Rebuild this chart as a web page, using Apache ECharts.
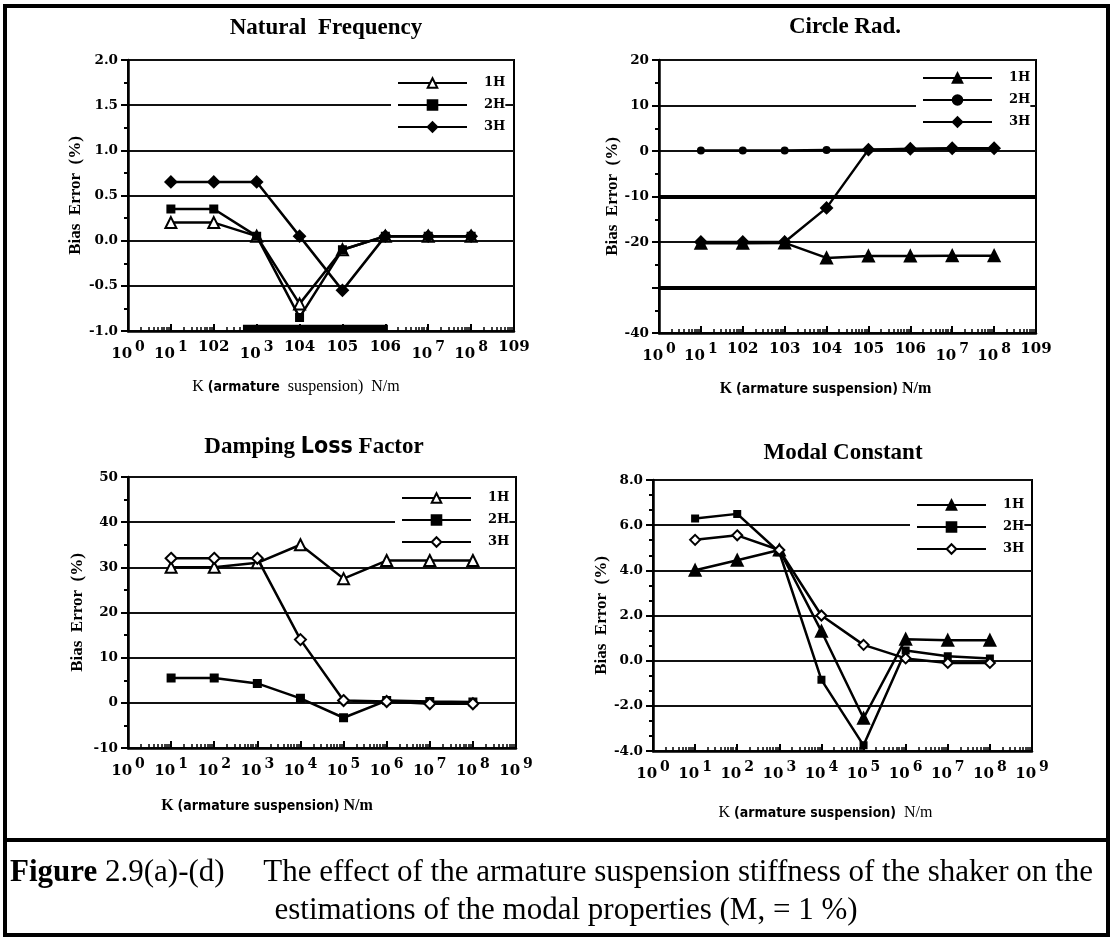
<!DOCTYPE html>
<html>
<head>
<meta charset="utf-8">
<script src="https://cdn.jsdelivr.net/npm/echarts@6/dist/echarts.min.js"></script>
<style>
  html, body { margin: 0; padding: 0; background: #fff; }
  #main { width: 1112px; height: 938px; }
</style>
</head>
<body>
<div id="main"></div>
<script>
// stiffness values K (N/m)
const kValues = [1e1, 1e2, 1e3, 1e4, 1e5, 1e6, 1e7, 1e8];
const harmonics = ['1H', '2H', '3H'];
const panelTitles = ['Natural  Frequency', 'Circle Rad.', 'Damping {l|Loss} Factor', 'Modal Constant'];

// (a) natural frequency bias error (%)
const natFreq1H = [0.2, 0.2, 0.05, -0.7, -0.1, 0.05, 0.05, 0.05];
const natFreq2H = [0.35, 0.35, 0.05, -0.85, -0.1, 0.05, 0.05, 0.05];
const natFreq3H = [0.65, 0.65, 0.65, 0.05, -0.55, 0.05, 0.05, 0.05];

// (b) circle radius bias error (%)
const circRad1H = [-20.3, -20.3, -20.2, -23.5, -23.1, -23.1, -23.0, -23.0];
const circRad2H = [0.1, 0.1, 0.1, 0.2, 0.3, 0.4, 0.5, 0.5];
const circRad3H = [-20.0, -20.0, -20.0, -12.5, 0.3, 0.5, 0.6, 0.6];

// (c) damping loss factor bias error (%)
const damp1H = [30.0, 30.0, 31.0, 35.0, 27.5, 31.5, 31.5, 31.5];
const damp2H = [5.5, 5.5, 4.3, 1.0, -3.3, 0.5, 0.3, 0.2];
const damp3H = [32.0, 32.0, 32.0, 14.0, 0.5, 0.3, -0.2, -0.2];

// (d) modal constant bias error (%)
const modal1H = [4.0, 4.45, 4.9, 1.3, -2.55, 0.95, 0.9, 0.9];
const modal2H = [6.3, 6.5, 4.8, -0.85, -3.75, 0.45, 0.2, 0.1];
const modal3H = [5.35, 5.55, 4.9, 2.0, 0.7, 0.1, -0.1, -0.1];

// x tick labels as printed ('^' = superscript exponent)
const xTicksNatFreq = ['10^0', '10^1', '102', '10^3', '104', '105', '106', '10^7', '10^8', '109'];
const xTicksCircRad = ['10^0', '10^1', '102', '103', '104', '105', '106', '10^7', '10^8', '109'];
const xTicksPow = ['10^0', '10^1', '10^2', '10^3', '10^4', '10^5', '10^6', '10^7', '10^8', '10^9'];

const captionLine1 = 'The effect of the armature suspension stiffness of the shaker on the';
const captionLine2 = 'estimations of the modal properties (M, = 1 %)';

const SERIF = "'Liberation Serif', 'Times New Roman', serif";
const WIDE = "'DejaVu Serif', serif";
const NARROW = "'Liberation Sans Narrow', 'DejaVu Sans Condensed', sans-serif";

var dom = document.getElementById('main');
var myChart = echarts.init(dom, null, { renderer: 'canvas' });

const panels = [
  {
    key: 'a', grid: { left: 128, top: 60, width: 386, height: 271 },
    min: -1, max: 2, interval: 0.5, minor: 2, digits: 1,
    data: [natFreq1H, natFreq2H, natFreq3H], ticks: xTicksNatFreq,
    marks: [{ symbol: 'triangle', size: 11, fill: false }, { symbol: 'rect', size: 7, fill: true }, { symbol: 'diamond', size: 11, fill: true }],
    titleX: 321, titleTop: 12, legendLeft: 391, legendTop: 72,
    xName: '{r|K }{b|(armature}{r|  suspension)  N/m}', xNamePad: [0, 50, 0, 0], xNameGap: 48, yNameGap: 44
  },
  {
    key: 'b', grid: { left: 659, top: 60, width: 377, height: 273 },
    min: -40, max: 20, interval: 10, minor: 2, digits: 0, hide: [-30],
    data: [circRad1H, circRad2H, circRad3H], ticks: xTicksCircRad,
    marks: [{ symbol: 'triangle', size: 11, fill: true }, { symbol: 'circle', size: 6, fill: true }, { symbol: 'diamond', size: 11, fill: true }],
    titleX: 840, titleTop: 11, legendLeft: 916, legendTop: 67,
    xName: '{k|K }{b|(armature suspension)}{k| N/m}', xNamePad: [0, 44, 0, 0], xNameGap: 48, yNameGap: 36
  },
  {
    key: 'c', grid: { left: 128, top: 477, width: 388, height: 271 },
    min: -10, max: 50, interval: 10, minor: 2, digits: 0,
    data: [damp1H, damp2H, damp3H], ticks: xTicksPow,
    marks: [{ symbol: 'triangle', size: 11, fill: false }, { symbol: 'rect', size: 7, fill: true }, { symbol: 'diamond', size: 11, fill: false }],
    titleX: 309, titleTop: 431, legendLeft: 395, legendTop: 487,
    xName: '{k|K }{b|(armature suspension)}{k| N/m}', xNamePad: [0, 110, 0, 0], xNameGap: 50, yNameGap: 42
  },
  {
    key: 'd', grid: { left: 653, top: 480, width: 379, height: 271 },
    min: -4, max: 8, interval: 2, minor: 3, digits: 1,
    data: [modal1H, modal2H, modal3H], ticks: xTicksPow,
    marks: [{ symbol: 'triangle', size: 11, fill: true }, { symbol: 'rect', size: 6, fill: true }, { symbol: 'diamond', size: 10, fill: false }],
    titleX: 838, titleTop: 437, legendLeft: 910, legendTop: 494,
    xName: '{r|K }{b|(armature suspension)}{r|  N/m}', xNamePad: [0, 34, 0, 0], xNameGap: 54, yNameGap: 42
  }
];

function xLabelFormatter(ticks) {
  return function (v) {
    const e = Math.round(Math.log10(v));
    const t = ticks[e];
    if (t == null) return '';
    if (t.indexOf('^') >= 0) {
      const p = t.split('^');
      return p[0] + '{sup|' + p[1] + '}';
    }
    return t;
  };
}

const nameRich = {
  r: { fontFamily: SERIF, fontSize: 16, color: '#000' },
  k: { fontFamily: SERIF, fontSize: 16, fontWeight: 'bold', color: '#000' },
  b: { fontFamily: NARROW, fontSize: 14, fontWeight: 'bold', color: '#000' }
};

const grids = [], xAxes = [], yAxes = [], series = [], legends = [], titles = [];

panels.forEach(function (p, i) {
  grids.push(Object.assign({ show: true, borderColor: '#000', borderWidth: 2, backgroundColor: 'transparent', containLabel: false, outerBoundsMode: 'none' }, p.grid));
  titles.push({
    text: panelTitles[i], left: p.titleX, top: p.titleTop, textAlign: 'center',
    textStyle: {
      fontFamily: SERIF, fontWeight: 'bold', fontSize: 23, color: '#000',
      rich: { l: { fontFamily: NARROW, fontWeight: 'bold', fontSize: 23, color: '#000' } }
    }
  });
  xAxes.push({
    gridIndex: i, type: 'log', logBase: 10, min: 1, max: 1e9, splitNumber: 9,
    name: p.xName, nameLocation: 'middle', nameGap: p.xNameGap,
    nameTextStyle: { padding: p.xNamePad, rich: nameRich },
    axisLine: { onZero: false, lineStyle: { color: '#000', width: 2.5 } },
    axisTick: { inside: true, length: 7, lineStyle: { color: '#000', width: 2 } },
    minorTick: { show: true, splitNumber: 9, length: 4, lineStyle: { color: '#000', width: 1.5 } },
    splitLine: { show: false },
    axisLabel: {
      interval: 0, showMinLabel: true, showMaxLabel: true, hideOverlap: false, margin: 9,
      formatter: xLabelFormatter(p.ticks),
      fontFamily: WIDE, fontWeight: 'bold', fontSize: 15, color: '#000',
      rich: { sup: { fontFamily: WIDE, fontWeight: 'bold', fontSize: 14, color: '#000', padding: [0, 0, 15, 3] } }
    }
  });
  yAxes.push({
    gridIndex: i, type: 'value', min: p.min, max: p.max, interval: p.interval,
    name: 'Bias  Error  (%)', nameLocation: 'middle', nameGap: p.yNameGap,
    nameTextStyle: { fontFamily: SERIF, fontWeight: 'bold', fontSize: 17, color: '#000' },
    axisLine: { show: true, lineStyle: { color: '#000', width: 2.5 } },
    axisTick: { inside: false, length: 7, lineStyle: { color: '#000', width: 2 } },
    minorTick: { show: true, splitNumber: p.minor, length: 4, lineStyle: { color: '#000', width: 2 } },
    splitLine: { show: true, lineStyle: { color: '#111', width: 2 } },
    axisLabel: {
      margin: 10, showMinLabel: true, showMaxLabel: true,
      fontFamily: WIDE, fontWeight: 'bold', fontSize: 13.5, color: '#000',
      formatter: function (v) {
        if (p.hide && p.hide.indexOf(v) >= 0) return '';
        return v.toFixed(p.digits);
      }
    }
  });
  harmonics.forEach(function (h, j) {
    const m = p.marks[j];
    series.push({
      name: p.key + '-' + h, type: 'line', xAxisIndex: i, yAxisIndex: i,
      data: kValues.map(function (k, n) { return [k, p.data[j][n]]; }),
      symbol: m.symbol, symbolSize: m.size, showAllSymbol: true,
      lineStyle: { color: '#000', width: 2.5 },
      itemStyle: { color: m.fill ? '#000' : '#fff', borderColor: '#000', borderWidth: 2 },
      emphasis: { disabled: true }, animation: false, z: 3 + j
    });
  });
  legends.push({
    data: harmonics.map(function (h) { return p.key + '-' + h; }),
    formatter: function (n) { return n.split('-')[1]; },
    orient: 'vertical', left: p.legendLeft, top: p.legendTop,
    itemWidth: 69, itemHeight: 12, itemGap: 8,
    backgroundColor: '#fff', padding: [4, 0, 4, 6], selectedMode: false,
    textStyle: { fontFamily: WIDE, fontWeight: 'bold', fontSize: 13, lineHeight: 14, color: '#000', padding: [0, 0, 0, 12] }
  });
});

// thick scan lines on the circle radius plot
series[3].markLine = {
  silent: true, symbol: 'none', label: { show: false },
  lineStyle: { color: '#000', width: 4, type: 'solid' },
  data: [{ yAxis: -10 }, { yAxis: -30 }]
};
// dark smear along the natural frequency axis
series[0].markArea = {
  silent: true, itemStyle: { color: '#000' },
  data: [[{ coord: [Math.pow(10, 2.68), -1.0] }, { coord: [Math.pow(10, 6.06), -0.93] }]]
};

var option = {
  backgroundColor: '#fff',
  animation: false,
  title: titles,
  legend: legends,
  grid: grids,
  xAxis: xAxes,
  yAxis: yAxes,
  series: series,
  graphic: [
    { type: 'rect', silent: true, shape: { x: 5, y: 6, width: 1103, height: 929 }, style: { fill: 'none', stroke: '#000', lineWidth: 4 } },
    { type: 'line', silent: true, shape: { x1: 5, y1: 840, x2: 1108, y2: 840 }, style: { stroke: '#000', lineWidth: 4 } },
    {
      type: 'text', silent: true, x: 10, y: 873,
      style: {
        text: '{f|Figure} 2.9(a)-(d)     ' + captionLine1,
        font: "31px 'Liberation Serif', serif", fill: '#000', verticalAlign: 'middle',
        rich: { f: { fontFamily: SERIF, fontWeight: 'bold', fontSize: 31, fill: '#000' } }
      }
    },
    {
      type: 'text', silent: true, x: 566, y: 911,
      style: { text: captionLine2, font: "31px 'Liberation Serif', serif", fill: '#000', align: 'center', verticalAlign: 'middle' }
    }
  ]
};

if (option && typeof option === 'object') {
  myChart.setOption(option);
}

window.addEventListener('resize', myChart.resize);
</script>
</body>
</html>
